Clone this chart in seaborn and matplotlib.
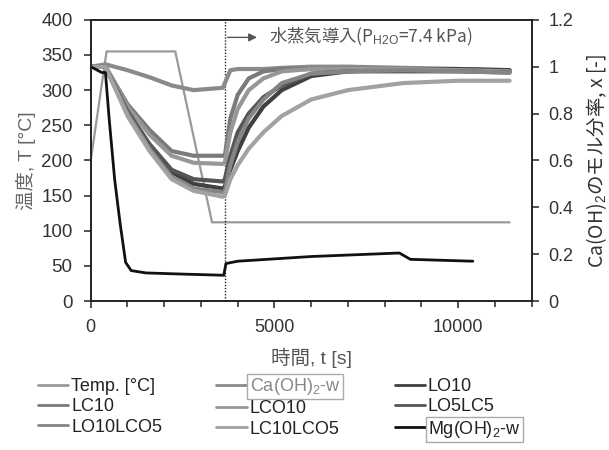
import matplotlib
matplotlib.use("Agg")
import matplotlib.pyplot as plt
import seaborn as sns
import pandas as pd
from matplotlib.ticker import MultipleLocator

# temperature program (left axis)
temp_t = [0, 430, 2300, 3300, 11400]
temp_v = [200, 355, 355, 112, 112]

# Ca(OH)2 mole fraction curves (right axis)
conv_t = [0, 400, 1000, 1600, 2200, 2800, 3600, 3650, 3800, 4000, 4300, 4700, 5200, 6000, 7000, 8500, 10000, 11400]
ca_w = [1.0, 1.01, 0.985, 0.955, 0.92, 0.90, 0.91, 0.93, 0.985, 0.99, 0.99, 0.99, 0.995, 1.0, 1.0, 0.995, 0.99, 0.985]
lc10 = [1.0, 1.0, 0.84, 0.73, 0.64, 0.62, 0.62, 0.62, 0.78, 0.88, 0.95, 0.98, 0.99, 0.99, 0.99, 0.99, 0.985, 0.98]
lco10 = [1.0, 1.0, 0.83, 0.71, 0.62, 0.59, 0.585, 0.59, 0.72, 0.82, 0.90, 0.95, 0.98, 0.99, 0.99, 0.99, 0.985, 0.98]
lo10 = [1.0, 1.0, 0.80, 0.66, 0.55, 0.50, 0.48, 0.49, 0.56, 0.64, 0.74, 0.83, 0.90, 0.96, 0.98, 0.99, 0.99, 0.985]
lo5lc5 = [1.0, 1.0, 0.81, 0.67, 0.56, 0.52, 0.51, 0.52, 0.62, 0.72, 0.80, 0.87, 0.92, 0.97, 0.98, 0.98, 0.98, 0.975]
lc10lco5 = [1.0, 1.0, 0.79, 0.64, 0.52, 0.47, 0.445, 0.45, 0.52, 0.58, 0.65, 0.72, 0.79, 0.86, 0.90, 0.93, 0.94, 0.94]
lo10lco5 = [1.0, 1.0, 0.80, 0.65, 0.53, 0.48, 0.465, 0.47, 0.58, 0.68, 0.78, 0.86, 0.93, 0.97, 0.98, 0.985, 0.98, 0.975]

mg_t = [0, 300, 400, 500, 650, 800, 950, 1100, 1500, 2500, 3620, 3680, 4000, 6000, 8400, 8700, 10400]
mg_w = [1.0, 0.975, 0.975, 0.78, 0.52, 0.33, 0.165, 0.13, 0.12, 0.115, 0.11, 0.16, 0.17, 0.19, 0.205, 0.178, 0.17]

right_ticks = [0, 0.2, 0.4, 0.6, 0.8, 1.0, 1.2]
right_ticklabels = ["0", "0.2", "0.4", "0.6", "0.8", "1", "1.2"]

sns.set_theme(style="ticks")
plt.rcParams['font.family'] = ['Liberation Sans', 'Noto Sans CJK JP', 'DejaVu Sans']
plt.rcParams['mathtext.fontset'] = 'custom'
plt.rcParams['mathtext.rm'] = 'Liberation Sans'
plt.rcParams['mathtext.it'] = 'Liberation Sans:italic'

fig = plt.figure(figsize=(6.09, 4.5), dpi=100)
ax = fig.add_axes([0.149, 0.331, 0.724, 0.625])
ax2 = ax.twinx()

sns.lineplot(x=temp_t, y=temp_v, ax=ax, color="#9a9a9a", lw=1.6, label="Temp. [°C]", legend=False)

series = [
    ("Ca(OH)$_2$-w", ca_w, "#8a8a8a"),
    ("LO10", lo10, "#404040"),
    ("LC10", lc10, "#7a7a7a"),
    ("LCO10", lco10, "#979797"),
    ("LO5LC5", lo5lc5, "#555555"),
    ("LO10LCO5", lo10lco5, "#858585"),
    ("LC10LCO5", lc10lco5, "#a2a2a2"),
]
for name, vals, col in series:
    df = pd.DataFrame({"t": conv_t, "x": vals})
    sns.lineplot(data=df, x="t", y="x", ax=ax2, color=col, lw=3, label=name, legend=False)
sns.lineplot(x=mg_t, y=mg_w, ax=ax2, color="#111111", lw=2, label="Mg(OH)$_2$-w", legend=False)

ax.axvline(3650, color="#222222", ls=(0, (1, 1.2)), lw=1)

ax.set_xlim(0, 12000)
ax.set_ylim(0, 400)
ax2.set_ylim(0, 1.2)
ax.xaxis.set_major_locator(MultipleLocator(5000))
ax.xaxis.set_minor_locator(MultipleLocator(1000))
ax.yaxis.set_major_locator(MultipleLocator(50))
ax2.set_yticks(right_ticks)
ax2.set_yticklabels(right_ticklabels)

for a in (ax, ax2):
    for s in a.spines.values():
        s.set_color("#222222")
        s.set_linewidth(1.2)
    a.tick_params(colors="#222222", labelcolor="#333333", labelsize=13, length=5, width=1.1, direction="out")
ax.tick_params(axis="x", which="minor", length=4, width=1.1, color="#222222")
ax.tick_params(axis="y", labelsize=13.5, pad=8)
ax2.tick_params(axis="y", pad=7)
ax.tick_params(axis="x", pad=8)

ax.set_xlabel("時間, t [s]", fontsize=14, color="#555555", labelpad=8)
ax.set_ylabel("温度, T [°C]", fontsize=14, color="#666666", labelpad=4)
ax2.set_ylabel("Ca(OH)$_2$のモル分率, x [-]", fontsize=14, color="#333333", labelpad=8,
               fontfamily="Noto Sans CJK JP")

ax.annotate("", xy=(4600, 375), xytext=(3650, 375),
            arrowprops=dict(arrowstyle="-|>", color="#555555", lw=1, mutation_scale=12))
ax.text(4850, 375, "水蒸気導入(P$_{\\mathrm{H2O}}$=7.4 kPa)", fontsize=12.5, color="#555555",
        va="center", ha="left", fontfamily="Noto Sans CJK JP")

h1, l1 = ax.get_legend_handles_labels()
h2, l2 = ax2.get_legend_handles_labels()
hd = dict(zip(l1 + l2, h1 + h2))
order = ["Temp. [°C]", "LC10", "LO10LCO5",
         "Ca(OH)$_2$-w", "LCO10", "LC10LCO5",
         "LO10", "LO5LC5", "Mg(OH)$_2$-w"]
leg = fig.legend([hd[k] for k in order], order, ncol=3, loc="upper left",
                 bbox_to_anchor=(0.05, 0.18), frameon=False, fontsize=13,
                 handlelength=1.7, handletextpad=0.15, labelspacing=0.18,
                 columnspacing=3.0, borderaxespad=0)
for line in leg.get_lines():
    line.set_linewidth(2)
for txt in leg.get_texts():
    txt.set_color("#222222")
    if txt.get_text().startswith("Ca"):
        txt.set_color("#888888")
        txt.set_bbox(dict(facecolor="white", edgecolor="#aaaaaa", pad=1.5, lw=1))
    if txt.get_text().startswith("Mg"):
        txt.set_bbox(dict(facecolor="white", edgecolor="#aaaaaa", pad=1.5, lw=1))

fig.savefig("out.png", dpi=100)
